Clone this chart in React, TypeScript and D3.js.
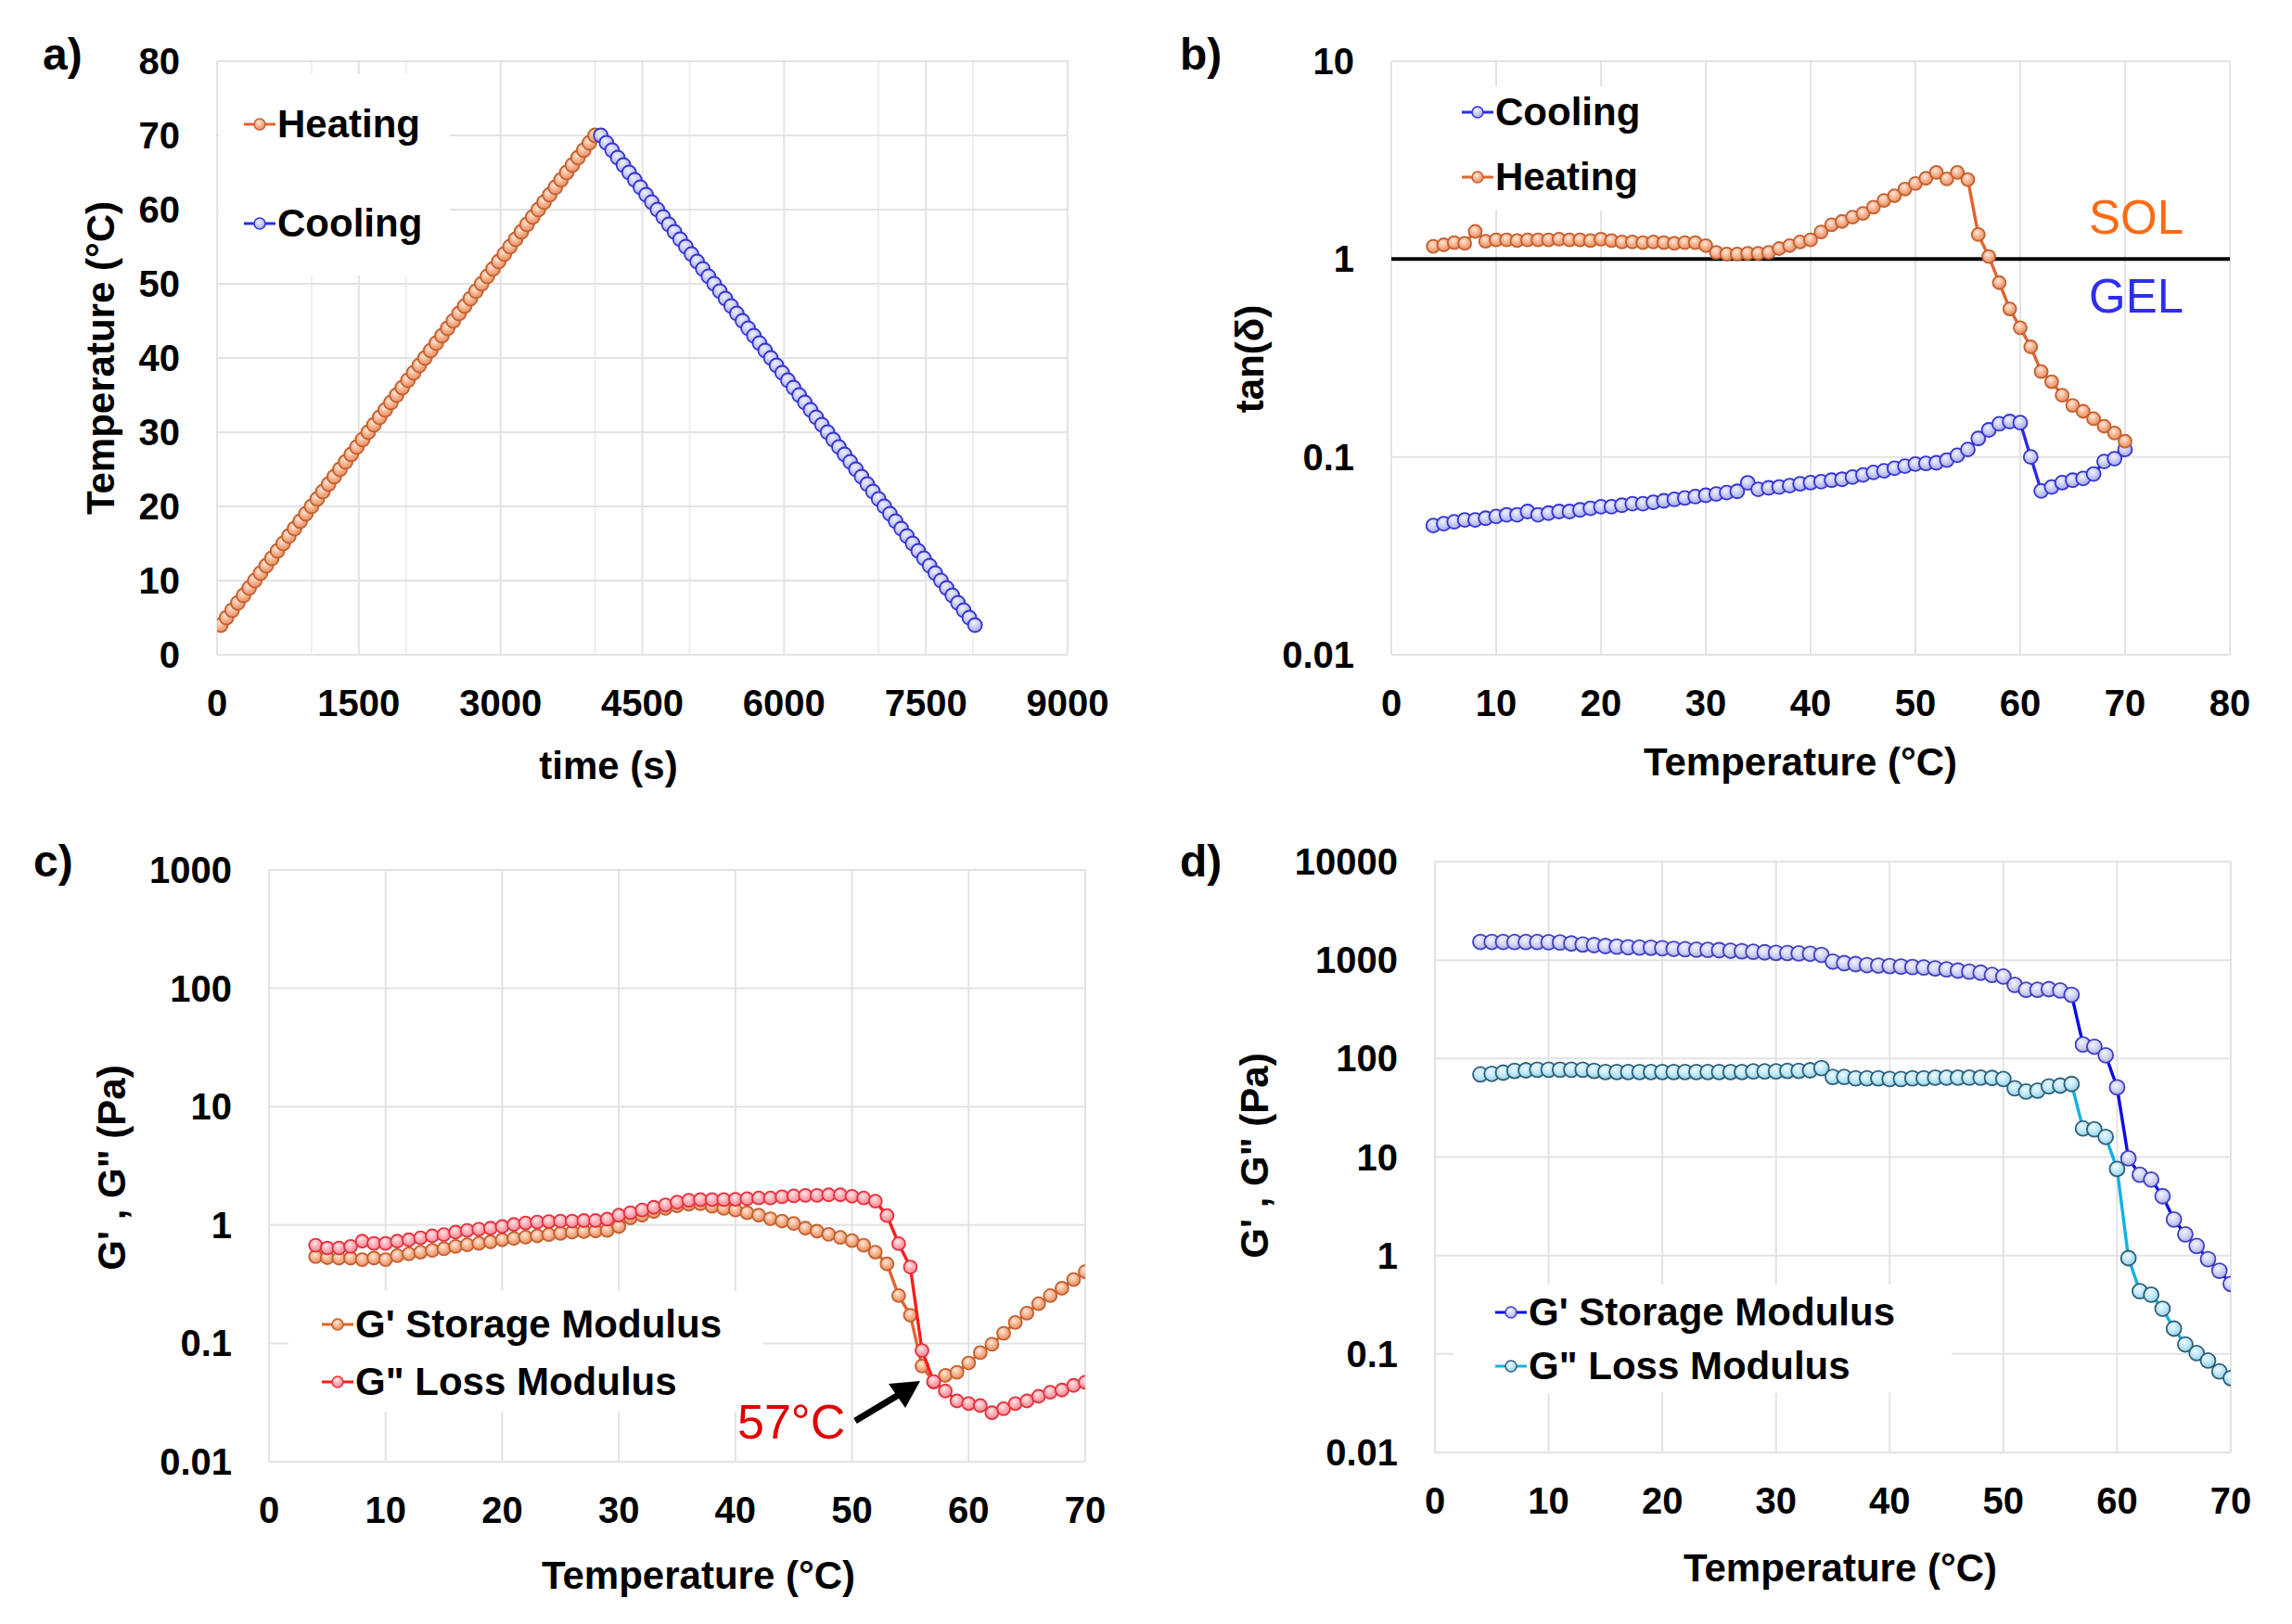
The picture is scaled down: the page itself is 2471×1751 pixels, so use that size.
import React from "react"
import * as d3 from "d3"

const FONT = "'Liberation Sans', Arial, Helvetica, sans-serif"
const GRID = "#e3e3e3"

// temperature ramp (°C) used by panels b, c, d
const TEMP_C = [
    4, 5, 6, 7, 8, 9, 10, 11, 12, 13, 14, 15, 16, 17, 18, 19, 20, 21, 22, 23,
    24, 25, 26, 27, 28, 29, 30, 31, 32, 33, 34, 35, 36, 37, 38, 39, 40, 41, 42,
    43, 44, 45, 46, 47, 48, 49, 50, 51, 52, 53, 54, 55, 56, 57, 58, 59, 60, 61,
    62, 63, 64, 65, 66, 67, 68, 69, 70,
]

// panel a : temperature program
const HEAT_TIME = [
    40, 100, 160, 220, 280, 340, 400, 460, 520, 580, 640, 700, 760, 820, 880,
    940, 1000, 1060, 1120, 1180, 1240, 1300, 1360, 1420, 1480, 1540, 1600, 1660,
    1720, 1780, 1840, 1900, 1960, 2020, 2080, 2140, 2200, 2260, 2320, 2380, 2440,
    2500, 2560, 2620, 2680, 2740, 2800, 2860, 2920, 2980, 3040, 3100, 3160, 3220,
    3280, 3340, 3400, 3460, 3520, 3580, 3640, 3700, 3760, 3820, 3880, 3940, 4000,
]
const HEAT_TEMP = TEMP_C
const COOL_TIME = [
    4060, 4120, 4180, 4240, 4300, 4360, 4420, 4480, 4540, 4600, 4660, 4720, 4780,
    4840, 4900, 4960, 5020, 5080, 5140, 5200, 5260, 5320, 5380, 5440, 5500, 5560,
    5620, 5680, 5740, 5800, 5860, 5920, 5980, 6040, 6100, 6160, 6220, 6280, 6340,
    6400, 6460, 6520, 6580, 6640, 6700, 6760, 6820, 6880, 6940, 7000, 7060, 7120,
    7180, 7240, 7300, 7360, 7420, 7480, 7540, 7600, 7660, 7720, 7780, 7840, 7900,
    7960, 8020,
]
const COOL_TEMP = [
    70, 69, 68, 67, 66, 65, 64, 63, 62, 61, 60, 59, 58, 57, 56, 55, 54, 53, 52,
    51, 50, 49, 48, 47, 46, 45, 44, 43, 42, 41, 40, 39, 38, 37, 36, 35, 34, 33,
    32, 31, 30, 29, 28, 27, 26, 25, 24, 23, 22, 21, 20, 19, 18, 17, 16, 15, 14,
    13, 12, 11, 10, 9, 8, 7, 6, 5, 4,
]

// panel b : tan(delta)
const TAN_HEAT = [
    1.16, 1.18, 1.21, 1.2, 1.38, 1.23, 1.25, 1.25, 1.24, 1.25, 1.25, 1.25, 1.26,
    1.25, 1.25, 1.24, 1.26, 1.24, 1.22, 1.22, 1.21, 1.22, 1.21, 1.2, 1.21, 1.21,
    1.17, 1.08, 1.06, 1.06, 1.07, 1.07, 1.08, 1.13, 1.17, 1.22, 1.25, 1.37, 1.49,
    1.55, 1.63, 1.7, 1.83, 1.98, 2.09, 2.26, 2.41, 2.56, 2.74, 2.54, 2.74, 2.52,
    1.33, 1.03, 0.76, 0.56, 0.45, 0.36, 0.27, 0.24, 0.205, 0.182, 0.17, 0.156,
    0.143, 0.132, 0.12,
]
const TAN_COOL = [
    0.045, 0.046, 0.047, 0.048, 0.048, 0.049, 0.05, 0.051, 0.051, 0.053, 0.051,
    0.052, 0.053, 0.053, 0.054, 0.055, 0.056, 0.056, 0.057, 0.058, 0.058, 0.059,
    0.06, 0.061, 0.062, 0.063, 0.064, 0.065, 0.066, 0.067, 0.074, 0.0686, 0.0698,
    0.0705, 0.0716, 0.0731, 0.0741, 0.075, 0.0763, 0.0771, 0.0791, 0.0811,
    0.0835, 0.0851, 0.0876, 0.0898, 0.0921, 0.0927, 0.0934, 0.0964, 0.102, 0.109,
    0.124, 0.137, 0.147, 0.151, 0.149, 0.1, 0.0673, 0.0705, 0.0741, 0.0763,
    0.0778, 0.082, 0.0948, 0.098, 0.109,
]

// panel c : moduli on heating (Pa)
const C_STORAGE = [
    0.54, 0.53, 0.525, 0.525, 0.51, 0.525, 0.51, 0.55, 0.57, 0.59, 0.61, 0.63,
    0.66, 0.68, 0.7, 0.72, 0.75, 0.77, 0.79, 0.81, 0.83, 0.85, 0.87, 0.88, 0.89,
    0.9, 0.97, 1.15, 1.21, 1.3, 1.38, 1.45, 1.5, 1.51, 1.44, 1.38, 1.34, 1.27,
    1.21, 1.13, 1.08, 1.03, 0.94, 0.886, 0.834, 0.785, 0.738, 0.674, 0.59, 0.469,
    0.253, 0.173, 0.0643, 0.047, 0.0536, 0.0569, 0.0683, 0.0834, 0.0982, 0.1215,
    0.15, 0.18, 0.216, 0.253, 0.292, 0.346, 0.403,
]
const C_LOSS = [
    0.675, 0.64, 0.64, 0.66, 0.73, 0.7, 0.7, 0.73, 0.75, 0.78, 0.81, 0.83, 0.87,
    0.9, 0.92, 0.94, 0.97, 1.01, 1.04, 1.06, 1.07, 1.08, 1.08, 1.09, 1.09, 1.12,
    1.21, 1.27, 1.34, 1.41, 1.48, 1.56, 1.62, 1.64, 1.64, 1.64, 1.65, 1.67, 1.69,
    1.69, 1.73, 1.76, 1.78, 1.78, 1.8, 1.8, 1.75, 1.69, 1.59, 1.2, 0.695, 0.441,
    0.087, 0.0475, 0.0396, 0.0326, 0.031, 0.0298, 0.0259, 0.028, 0.031, 0.0326,
    0.0357, 0.0386, 0.0403, 0.0441, 0.0469,
]

// panel d : moduli on cooling (Pa)
const D_STORAGE = [
    1530, 1530, 1530, 1525, 1525, 1525, 1520, 1510, 1475, 1440, 1420, 1390, 1370,
    1350, 1340, 1335, 1320, 1300, 1290, 1275, 1270, 1260, 1245, 1230, 1215, 1200,
    1185, 1180, 1170, 1160, 1130, 965, 930, 910, 890, 880, 870, 860, 850, 840, 824,
    805, 782, 763, 745, 706, 680, 560, 499, 499, 507, 491, 444, 139, 132, 108, 51,
    9.7, 6.6, 5.9, 4.0, 2.32, 1.64, 1.25, 0.918, 0.7, 0.514,
]
const D_LOSS = [
    69, 70, 72, 75, 76, 77, 77, 77, 77, 77, 75, 73, 73, 73, 73, 73, 73, 73, 73,
    73, 73, 73, 73, 73, 74, 74, 74, 75, 75, 76, 80, 65, 65, 63, 63, 63, 62, 62, 63,
    63, 64, 64, 64, 64, 64, 63.5, 62, 49.9, 46.2, 47.2, 52.2, 53.1, 55.2, 19.5,
    19.1, 16.0, 7.57, 0.94, 0.434, 0.4, 0.288, 0.181, 0.125, 0.102, 0.0857,
    0.0664, 0.0569,
]

const A_X_TICKS = [0, 1500, 3000, 4500, 6000, 7500, 9000]
const A_X_MINOR = [1000, 2000, 4000, 5000, 7000, 8000]
const A_Y_TICKS = [0, 10, 20, 30, 40, 50, 60, 70, 80]
const T_TICKS_80 = [0, 10, 20, 30, 40, 50, 60, 70, 80]
const T_TICKS_70 = [0, 10, 20, 30, 40, 50, 60, 70]
const B_Y_TICKS = [0.01, 0.1, 1, 10]
const C_Y_TICKS = [0.01, 0.1, 1, 10, 100, 1000]
const D_Y_TICKS = [0.01, 0.1, 1, 10, 100, 1000, 10000]

type Style = { line: string; stroke: string; hi: string; tint: string; edge: string; id: string }
const ORANGE: Style = { line: "#e2642e", stroke: "#c4602f", hi: "#fde9dc", tint: "#f5b08a", edge: "#e48c62", id: "gOrange" }
const BLUE: Style = { line: "#2b2be6", stroke: "#3434d2", hi: "#f0f1ff", tint: "#c6caf4", edge: "#9ea4ea", id: "gBlue" }
const RED: Style = { line: "#ff1c1c", stroke: "#e5303e", hi: "#ffe6e8", tint: "#ffaab2", edge: "#f58690", id: "gRed" }
const DBLUE: Style = { line: "#0b0be2", stroke: "#4040c2", hi: "#f3f3ff", tint: "#d0d3f5", edge: "#a7abe8", id: "gDblue" }
const CYAN: Style = { line: "#12b2e4", stroke: "#2f5f78", hi: "#eefaff", tint: "#bde8f7", edge: "#92cfe6", id: "gCyan" }

type Series = { xs: number[]; ys: number[]; style: Style; r: number }
type Box = { left: number; right: number; top: number; bottom: number }

type PanelProps = {
    clip: string
    box: Box
    xDomain: [number, number]
    yDomain: [number, number]
    logY: boolean
    xTicks: number[]
    xMinor?: number[]
    yTicks: number[]
    series: Series[]
    legend: { label: string; style: Style; x: number; y: number }[]
    legendBox: Box
    xTitle: { text: string; x: number; y: number }
    yTitle: { text: string; x: number; y: number }
    letter: { text: string; x: number; y: number }
    children?: (x: any, y: any) => React.ReactNode
}

const Panel = (p: PanelProps) => {
    const { box } = p
    const x = d3.scaleLinear().domain(p.xDomain).range([box.left, box.right])
    const y = (p.logY ? d3.scaleLog() : d3.scaleLinear())
        .domain(p.yDomain)
        .range([box.bottom, box.top])

    return (
        <g>
            <defs>
                <clipPath id={p.clip}>
                    <rect
                        x={box.left}
                        y={box.top}
                        width={box.right - box.left}
                        height={box.bottom - box.top}
                    />
                </clipPath>
            </defs>
            {/* grid */}
            {(p.xMinor || []).map((v) => (
                <line key={"m" + v} x1={x(v)} x2={x(v)} y1={box.top} y2={box.bottom}
                    stroke="#efefef" strokeWidth={2} />
            ))}
            {p.xTicks.map((v) => (
                <line key={"x" + v} x1={x(v)} x2={x(v)} y1={box.top} y2={box.bottom}
                    stroke={GRID} strokeWidth={2} />
            ))}
            {p.yTicks.map((v) => (
                <line key={"y" + v} x1={box.left} x2={box.right} y1={y(v)} y2={y(v)}
                    stroke={GRID} strokeWidth={2} />
            ))}
            <rect
                x={p.legendBox.left}
                y={p.legendBox.top}
                width={p.legendBox.right - p.legendBox.left}
                height={p.legendBox.bottom - p.legendBox.top}
                fill="#fff"
            />
            {p.children ? p.children(x, y) : null}
            {/* series */}
            <g clipPath={`url(#${p.clip})`}>
                {p.series.map((s, k) => {
                    const path = d3
                        .line<number>()
                        .x((d) => x(d))
                        .y((d, i) => y(s.ys[i]))(s.xs)
                    return (
                        <g key={k}>
                            <path d={path || ""} fill="none" stroke={s.style.line}
                                strokeWidth={3.4} />
                            {s.xs.map((d, i) => (
                                <circle key={i} cx={x(d)} cy={y(s.ys[i])} r={s.r}
                                    fill={`url(#${s.style.id})`} stroke={s.style.stroke}
                                    strokeWidth={1.8} />
                            ))}
                        </g>
                    )
                })}
            </g>
            {/* tick labels */}
            {p.xTicks.map((v) => (
                <text key={"xt" + v} x={x(v)} y={box.bottom + 66} textAnchor="middle"
                    fontSize={40} fontWeight="bold">
                    {v}
                </text>
            ))}
            {p.yTicks.map((v) => (
                <text key={"yt" + v} x={box.left - 40} y={y(v) + 14} textAnchor="end"
                    fontSize={40} fontWeight="bold">
                    {String(v)}
                </text>
            ))}
            {/* legend */}
            {p.legend.map((l) => (
                <g key={l.label}>
                    <line x1={l.x - 17} x2={l.x + 17} y1={l.y} y2={l.y}
                        stroke={l.style.line} strokeWidth={3} />
                    <circle cx={l.x} cy={l.y} r={6} fill={`url(#${l.style.id})`}
                        stroke={l.style.stroke} strokeWidth={1.5} />
                    <text x={l.x + 19} y={l.y + 14} fontSize={42} fontWeight="bold">
                        {l.label}
                    </text>
                </g>
            ))}
            {/* titles */}
            <text x={p.xTitle.x} y={p.xTitle.y} textAnchor="middle" fontSize={42}
                fontWeight="bold">
                {p.xTitle.text}
            </text>
            <text transform={`translate(${p.yTitle.x},${p.yTitle.y}) rotate(-90)`}
                textAnchor="middle" fontSize={42} fontWeight="bold">
                {p.yTitle.text}
            </text>
            <text x={p.letter.x} y={p.letter.y} fontSize={48} fontWeight="bold">
                {p.letter.text}
            </text>
        </g>
    )
}

const App = () => {
    const styles = [ORANGE, BLUE, RED, DBLUE, CYAN]
    return (
        <svg
            width={2471}
            height={1751}
            style={{ position: "absolute", left: 0, top: 0, background: "#fff" }}
            fontFamily={FONT}
        >
            <defs>
                {styles.map((s) => (
                    <radialGradient key={s.id} id={s.id} cx="42%" cy="35%" r="65%">
                        <stop offset="0%" stopColor={s.hi} />
                        <stop offset="55%" stopColor={s.tint} />
                        <stop offset="100%" stopColor={s.edge} />
                    </radialGradient>
                ))}
            </defs>
            <rect width={2471} height={1751} fill="#fff" />

            {/* a) */}
            <Panel
                clip="clipA"
                box={{ left: 234, right: 1151, top: 66, bottom: 706 }}
                xDomain={[0, 9000]}
                yDomain={[0, 80]}
                logY={false}
                xTicks={A_X_TICKS}
                xMinor={A_X_MINOR}
                yTicks={A_Y_TICKS}
                series={[
                    { xs: HEAT_TIME, ys: HEAT_TEMP, style: ORANGE, r: 7.5 },
                    { xs: COOL_TIME, ys: COOL_TEMP, style: BLUE, r: 7.5 },
                ]}
                legend={[
                    { label: "Heating", style: ORANGE, x: 280, y: 134 },
                    { label: "Cooling", style: BLUE, x: 280, y: 241 },
                ]}
                legendBox={{ left: 236, right: 485, top: 80, bottom: 297 }}
                xTitle={{ text: "time (s)", x: 656, y: 840 }}
                yTitle={{ text: "Temperature (°C)", x: 123, y: 386 }}
                letter={{ text: "a)", x: 46, y: 75 }}
            />

            {/* b) */}
            <Panel
                clip="clipB"
                box={{ left: 1500, right: 2404, top: 66, bottom: 706 }}
                xDomain={[0, 80]}
                yDomain={[0.01, 10]}
                logY={true}
                xTicks={T_TICKS_80}
                yTicks={B_Y_TICKS}
                series={[
                    { xs: TEMP_C, ys: TAN_COOL, style: BLUE, r: 7.5 },
                    { xs: TEMP_C, ys: TAN_HEAT, style: ORANGE, r: 7 },
                ]}
                legend={[
                    { label: "Cooling", style: BLUE, x: 1593, y: 121 },
                    { label: "Heating", style: ORANGE, x: 1593, y: 191 },
                ]}
                legendBox={{ left: 1545, right: 1800, top: 93, bottom: 227 }}
                xTitle={{ text: "Temperature (°C)", x: 1941, y: 836 }}
                yTitle={{ text: "tan(δ)", x: 1362, y: 387 }}
                letter={{ text: "b)", x: 1272, y: 75 }}
            >
                {(x, y) => (
                    <g>
                        <line x1={x(0)} x2={x(80)} y1={y(1)} y2={y(1)} stroke="#000"
                            strokeWidth={4} />
                        <text x={2252} y={252} fontSize={51} fill="#ff6a12">SOL</text>
                        <text x={2252} y={337} fontSize={51} fill="#2e2ef0">GEL</text>
                    </g>
                )}
            </Panel>

            {/* c) */}
            <Panel
                clip="clipC"
                box={{ left: 290, right: 1170, top: 938, bottom: 1576 }}
                xDomain={[0, 70]}
                yDomain={[0.01, 1000]}
                logY={true}
                xTicks={T_TICKS_70}
                yTicks={C_Y_TICKS}
                series={[
                    { xs: TEMP_C, ys: C_STORAGE, style: ORANGE, r: 7 },
                    { xs: TEMP_C, ys: C_LOSS, style: RED, r: 7 },
                ]}
                legend={[
                    { label: "G' Storage Modulus", style: ORANGE, x: 364, y: 1428 },
                    { label: 'G" Loss Modulus', style: RED, x: 364, y: 1490 },
                ]}
                legendBox={{ left: 311, right: 822, top: 1392, bottom: 1522 }}
                xTitle={{ text: "Temperature (°C)", x: 753, y: 1713 }}
                yTitle={{ text: 'G\' , G" (Pa)', x: 135, y: 1259 }}
                letter={{ text: "c)", x: 36, y: 945 }}
            >
                {() => (
                    <g>
                        <text x={795} y={1551} fontSize={52} fill="#e00000">57°C</text>
                        <line x1={922} y1={1532} x2={972} y2={1502} stroke="#000"
                            strokeWidth={7} />
                        <polygon points="992,1489 958,1492 976,1518" fill="#000" />
                    </g>
                )}
            </Panel>

            {/* d) */}
            <Panel
                clip="clipD"
                box={{ left: 1547, right: 2405, top: 929, bottom: 1566 }}
                xDomain={[0, 70]}
                yDomain={[0.01, 10000]}
                logY={true}
                xTicks={T_TICKS_70}
                yTicks={D_Y_TICKS}
                series={[
                    { xs: TEMP_C, ys: D_STORAGE, style: DBLUE, r: 8 },
                    { xs: TEMP_C, ys: D_LOSS, style: CYAN, r: 8 },
                ]}
                legend={[
                    { label: "G' Storage Modulus", style: DBLUE, x: 1629, y: 1415 },
                    { label: 'G" Loss Modulus', style: CYAN, x: 1629, y: 1473 },
                ]}
                legendBox={{ left: 1567, right: 2104, top: 1385, bottom: 1502 }}
                xTitle={{ text: "Temperature (°C)", x: 1984, y: 1705 }}
                yTitle={{ text: 'G\' , G" (Pa)', x: 1367, y: 1246 }}
                letter={{ text: "d)", x: 1272, y: 945 }}
            />
        </svg>
    )
}

export default App
